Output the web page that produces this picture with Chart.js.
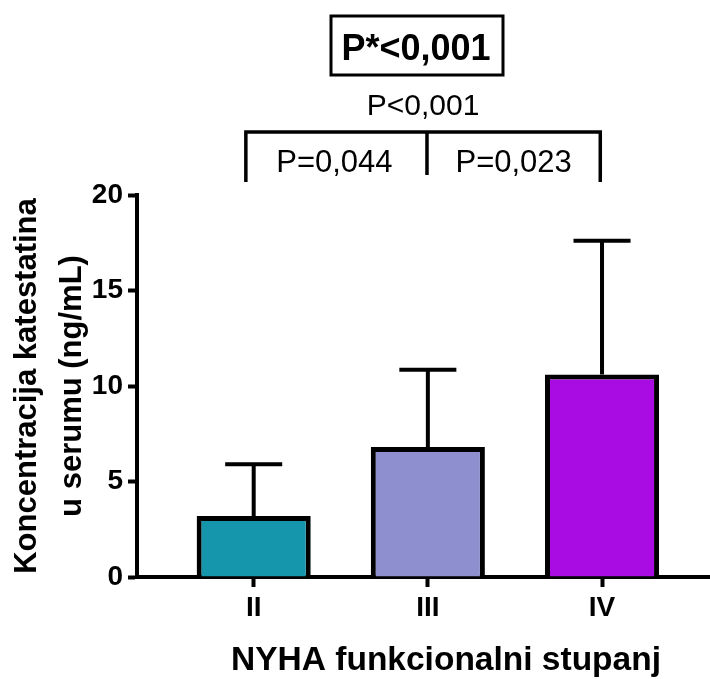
<!DOCTYPE html>
<html>
<head>
<meta charset="utf-8">
<script src="https://cdn.jsdelivr.net/npm/chart.js@4"></script>
<style>
body{margin:0;background:#fff;}
canvas{display:block;}
</style>
</head>
<body>
<canvas id="graf" width="710" height="679"></canvas>
<script>
// NYHA grupe i vrijednosti (srednja vrijednost + SD)
var grupe = ['II', 'III', 'IV'];
var pozicije = [1, 2, 3];
var srednje = [3.2, 6.8, 10.6];
var sd = [2.7, 4.05, 7.0];
var boje = ['#1596ad', '#8d8fcf', '#a80ce3'];
var yTicks = [0, 5, 10, 15, 20];

// oznake p-vrijednosti iznad grafa
var pGlavni = 'P*<0,001';
var pUkupno = 'P<0,001';
var pParovi = ['P=0,044', 'P=0,023'];
var zagradaX = [0.955, 1.995, 2.99];

var FONT = "'Liberation Sans', Arial, sans-serif";

var podaci = [];
for (var i = 0; i < grupe.length; i++) {
	podaci.push({x: pozicije[i], y: srednje[i]});
}

var errorBars = {
	id: 'errorBars',
	afterDatasetsDraw: function(chart) {
		var c = chart.ctx;
		var ys = chart.scales.y;
		var meta = chart.getDatasetMeta(0);
		c.save();
		c.strokeStyle = '#000';
		c.lineWidth = 4;
		meta.data.forEach(function(bar, i) {
			var top = ys.getPixelForValue(srednje[i] + sd[i]);
			var half = bar.width / 4;
			c.beginPath();
			c.moveTo(bar.x, bar.y);
			c.lineTo(bar.x, top);
			c.moveTo(bar.x - half, top);
			c.lineTo(bar.x + half, top);
			c.stroke();
		});
		c.restore();
	}
};

var oznake = {
	id: 'oznake',
	afterDraw: function(chart) {
		var c = chart.ctx;
		var xs = chart.scales.x;
		var x1 = xs.getPixelForValue(zagradaX[0]);
		var x2 = xs.getPixelForValue(zagradaX[1]);
		var x3 = xs.getPixelForValue(zagradaX[2]);
		c.save();
		c.strokeStyle = '#000';
		c.fillStyle = '#000';
		c.lineWidth = 3.5;
		// zagrada
		c.beginPath();
		c.moveTo(x1, 182);
		c.lineTo(x1, 132);
		c.lineTo(x3, 132);
		c.lineTo(x3, 182);
		c.moveTo(x2, 132);
		c.lineTo(x2, 175);
		c.stroke();

		c.textAlign = 'center';
		c.textBaseline = 'alphabetic';
		c.font = '31px ' + FONT;
		c.fillText(pParovi[0], (x1 + x2) / 2 - 2, 172);
		c.fillText(pParovi[1], (x2 + x3) / 2, 172);
		c.font = '30px ' + FONT;
		c.fillText(pUkupno, (x1 + x3) / 2, 115);

		// uokvireni glavni p
		c.font = 'bold 36px ' + FONT;
		c.fillText(pGlavni, 416, 60);
		c.lineWidth = 3;
		c.strokeRect(331, 16, 172, 59);

		// naslov x osi
		c.font = 'bold 33.5px ' + FONT;
		c.fillText('NYHA funkcionalni stupanj', 446, 670);
		c.restore();
	}
};

var chart = new Chart(document.getElementById('graf').getContext('2d'), {
	type: 'bar',
	data: {
		datasets: [{
			data: podaci,
			backgroundColor: boje,
			borderColor: '#000',
			borderWidth: 5,
			barPercentage: 1,
			categoryPercentage: 0.655
		}]
	},
	options: {
		responsive: false,
		animation: false,
		layout: {padding: {top: 195, right: 0, bottom: 0, left: 0}},
		plugins: {legend: {display: false}, tooltip: {enabled: false}},
		scales: {
			x: {
				type: 'linear',
				offset: false,
				min: 0.33,
				max: 3.62,
				z: 1,
				afterBuildTicks: function(s) {
					s.ticks = pozicije.map(function(v) { return {value: v}; });
				},
				afterFit: function(s) { s.height = 102; },
				border: {display: true, color: '#000', width: 4},
				grid: {offset: false, drawOnChartArea: false, drawTicks: true, tickLength: 10, tickWidth: 4, tickColor: '#000'},
				ticks: {
					color: '#000',
					padding: 4,
					font: {family: FONT, size: 28, weight: 'bold'},
					callback: function(v) {
						var k = pozicije.indexOf(v);
						return k >= 0 ? grupe[k] : '';
					}
				}
			},
			y: {
				min: 0,
				max: 20,
				z: 1,
				afterBuildTicks: function(s) {
					s.ticks = yTicks.map(function(v) { return {value: v}; });
				},
				afterFit: function(s) { s.width = 137; },
				border: {display: true, color: '#000', width: 4},
				grid: {drawOnChartArea: false, drawTicks: true, tickLength: 9, tickWidth: 4, tickColor: '#000'},
				ticks: {
					color: '#000',
					padding: 5,
					font: {family: FONT, size: 28, weight: 'bold'}
				},
				title: {
					display: true,
					text: ['Koncentracija katestatina', 'u serumu (ng/mL)'],
					color: '#000',
					padding: {top: 5, bottom: 0},
					font: {family: FONT, size: 31, weight: 'bold', lineHeight: 1.45}
				}
			}
		}
	},
	plugins: [errorBars, oznake]
});
</script>
</body>
</html>
